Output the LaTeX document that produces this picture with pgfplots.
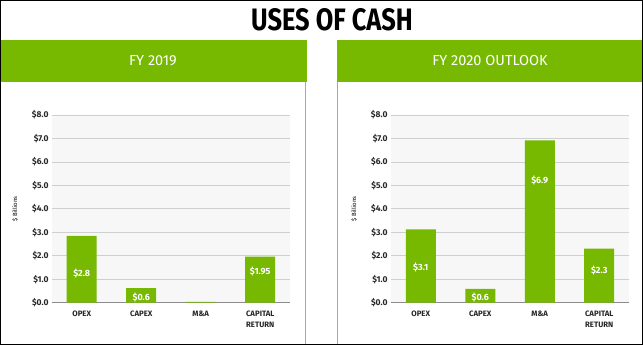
\documentclass[border=0pt]{standalone}
\usepackage{fontspec}
\setmainfont{Fira Sans}
\usepackage{pgfplots}
\pgfplotsset{compat=1.18}
\definecolor{nvgreen}{HTML}{76B900}
\definecolor{plotbg}{HTML}{F7F7F7}
\definecolor{gridc}{HTML}{CFCFCF}
\definecolor{panelc}{HTML}{A8A8A8}
\pgfplotsset{
  usesstyle/.style={
    scale only axis, width=238pt, height=187.7pt,
    anchor=south west,
    ybar, bar width=30pt,
    xmin=-0.5, xmax=3.5, ymin=0, ymax=8,
    ytick={0,1,...,8},
    xtick={0,1,2,3},
    xticklabels={OPEX,CAPEX,M\&A,{CAPITAL\\RETURN}},
    xticklabel style={align=center, yshift=-5pt, font=\bfseries\fontsize{7.8}{11}\selectfont, text=black!85},
    yticklabel={\$\pgfmathprintnumber[fixed,fixed zerofill,precision=1]{\tick}},
    yticklabel style={font=\bfseries\fontsize{8.5}{10}\selectfont, text=black!85},
    /pgf/number format/assume math mode=true,
    major tick length=0pt,
    ymajorgrids, grid style={gridc, line width=0.8pt},
    axis background/.style={fill=plotbg},
    axis x line*=bottom, axis y line*=left,
    y axis line style={draw=none},
    x axis line style={draw=black!45, line width=1.2pt},
    ylabel={\$ Billions},
    every axis y label/.style={at={(axis description cs:0,0.5)}, xshift=-37pt, rotate=90, anchor=center, font=\fontsize{6}{7}\selectfont},
    clip=false,
  }
}
\begin{document}
\begin{tikzpicture}[x=1pt,y=1pt]
\useasboundingbox (0,0) rectangle (643,345);
% title
\node[font=\bfseries\fontsize{31}{34}\selectfont] at (332,325) {\scalebox{0.82}[1]{USES OF CASH}};
% headers
\fill[nvgreen] (0,263) rectangle (306.5,305);
\fill[nvgreen] (337,263) rectangle (643,305);
\node[white, font=\fontsize{14.5}{16}\selectfont] at (153,284) {FY 2019};
\node[white, font=\fontsize{14.5}{16}\selectfont] at (490,284) {FY 2020 OUTLOOK};
% panel borders
\draw[panelc, line width=1pt] (305.7,263) -- (305.7,1);
\draw[panelc, line width=1pt] (337.5,263) -- (337.5,1);

\begin{axis}[usesstyle, at={(52pt,42.3pt)}]
\addplot[fill=nvgreen, draw=none] coordinates {(0,2.85) (1,0.62) (2,0.04) (3,1.96)};
\node[white, font=\bfseries\fontsize{9}{10}\selectfont] at (axis cs:0,1.24) {\$2.8};
\node[white, font=\bfseries\fontsize{9}{10}\selectfont] at (axis cs:1,0.21) {\$0.6};
\node[white, font=\bfseries\fontsize{9}{10}\selectfont] at (axis cs:3,1.35) {\$1.95};
\end{axis}

\begin{axis}[usesstyle, at={(391pt,42.3pt)}]
\addplot[fill=nvgreen, draw=none] coordinates {(0,3.12) (1,0.59) (2,6.92) (3,2.30)};
\node[white, font=\bfseries\fontsize{9}{10}\selectfont] at (axis cs:0,1.49) {\$3.1};
\node[white, font=\bfseries\fontsize{9}{10}\selectfont] at (axis cs:1,0.21) {\$0.6};
\node[white, font=\bfseries\fontsize{9}{10}\selectfont] at (axis cs:2,5.23) {\$6.9};
\node[white, font=\bfseries\fontsize{9}{10}\selectfont] at (axis cs:3,1.39) {\$2.3};
\end{axis}

% outer frame
\draw[black, line width=1.3pt] (0.65,0.65) rectangle (642.35,344.35);
\end{tikzpicture}
\end{document}
